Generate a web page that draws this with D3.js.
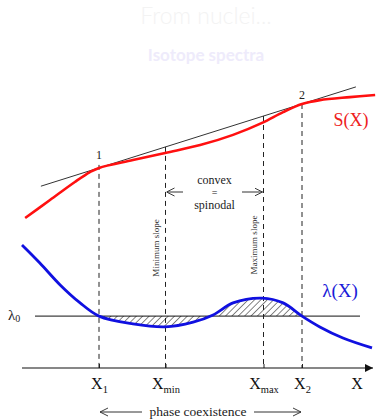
<!DOCTYPE html>
<html>
<head>
<meta charset="utf-8">
<script src="https://cdn.jsdelivr.net/npm/d3@7"></script>
<style>
  body { margin: 0; background: #fff; }
  svg { display: block; }
</style>
</head>
<body>
<div id="chart"></div>
<script>
// values (arbitrary units)
const sPoints = [[0.9, 50], [8, 56], [15.1, 62], [19.4, 65.3], [22, 66.7], [31.7, 69.3], [40.9, 71.7],
  [50.9, 74.3], [60.3, 77.7], [68.6, 81.7], [74.6, 85.3], [80, 88], [85.1, 89.3], [93.7, 90.3], [100.9, 91]];
const lambdaPoints = [[0, 41], [5.1, 35], [10.9, 27.7], [16.6, 21.7], [22, 17.3], [31.7, 14.7],
  [40.9, 13.7], [48.9, 15.3], [54.6, 17.7], [60.3, 21.7], [68.6, 23.3], [74.6, 21.7], [80, 17.3],
  [85.1, 13.7], [91.7, 10], [100, 6.7]];
const tangentPoints = [[5.4, 60.6], [95.4, 93.7]];
const lambda0 = 17.3;
const tickNames = ['X1', 'Xmin', 'Xmax', 'X2'];
const tickValues = [22, 41, 69, 80];
const tickSubs = ['1', 'min', 'max', '2'];

const width = 378;
const height = 420;

const x = d3.scaleLinear().domain([0, 100]).range([22, 372]);
const y = d3.scaleLinear().domain([0, 100]).range([368, 68]);

const svg = d3.select('#chart')
  .append('svg')
  .attr('width', width)
  .attr('height', height);

const defs = svg.append('defs');

defs.append('pattern')
  .attr('id', 'hatch')
  .attr('patternUnits', 'userSpaceOnUse')
  .attr('width', 4.5)
  .attr('height', 4.5)
  .attr('patternTransform', 'rotate(45)')
  .append('line')
  .attr('x1', 0).attr('y1', 0)
  .attr('x2', 0).attr('y2', 4.5)
  .attr('stroke', '#333')
  .attr('stroke-width', 1.2);

defs.append('marker')
  .attr('id', 'axisHead')
  .attr('viewBox', '0 0 10 10')
  .attr('refX', 10).attr('refY', 5)
  .attr('markerWidth', 14).attr('markerHeight', 8)
  .attr('markerUnits', 'userSpaceOnUse')
  .attr('orient', 'auto')
  .append('path')
  .attr('d', 'M0,0L10,5L0,10z')
  .attr('fill', '#111');

defs.append('marker')
  .attr('id', 'openHead')
  .attr('viewBox', '0 0 10 10')
  .attr('refX', 10).attr('refY', 5)
  .attr('markerWidth', 8).attr('markerHeight', 10)
  .attr('markerUnits', 'userSpaceOnUse')
  .attr('orient', 'auto-start-reverse')
  .append('path')
  .attr('d', 'M0,0L10,5L0,10')
  .attr('fill', 'none')
  .attr('stroke', '#333')
  .attr('stroke-width', 1.2);

defs.append('clipPath')
  .attr('id', 'coexist')
  .append('rect')
  .attr('x', x(tickValues[0]))
  .attr('y', 0)
  .attr('width', x(tickValues[3]) - x(tickValues[0]))
  .attr('height', height);

// title (very faint, as in the slide)
svg.append('text')
  .attr('x', 206).attr('y', 24)
  .attr('text-anchor', 'middle')
  .style('font-family', 'Lato, sans-serif')
  .style('font-size', '23px')
  .style('font-weight', '300')
  .attr('fill', '#f3f3f3')
  .text('From nuclei...');

svg.append('text')
  .attr('x', 206).attr('y', 61)
  .attr('text-anchor', 'middle')
  .style('font-family', 'Lato, sans-serif')
  .style('font-size', '17px')
  .style('font-weight', 'bold')
  .attr('fill', '#eeebfb')
  .text('Isotope spectra');

const curve = d3.curveCatmullRom.alpha(0.5);
const line = d3.line().x(d => x(d[0])).y(d => y(d[1])).curve(curve);

// hatched area between lambda and lambda0
const area = d3.area()
  .x(d => x(d[0]))
  .y0(y(lambda0))
  .y1(d => y(d[1]))
  .curve(curve);

svg.append('path')
  .datum(lambdaPoints)
  .attr('d', area)
  .attr('fill', 'url(#hatch)')
  .attr('clip-path', 'url(#coexist)');

// lambda0 line
svg.append('line')
  .attr('x1', 35).attr('x2', 360)
  .attr('y1', y(lambda0)).attr('y2', y(lambda0))
  .attr('stroke', '#111')
  .attr('stroke-width', 1);

// tangent line
svg.append('path')
  .datum(tangentPoints)
  .attr('d', d3.line().x(d => x(d[0])).y(d => y(d[1])))
  .attr('stroke', '#333')
  .attr('stroke-width', 1)
  .attr('fill', 'none');

// dashed verticals
const tangentAt = v => tangentPoints[0][1] + (v - tangentPoints[0][0]) *
  (tangentPoints[1][1] - tangentPoints[0][1]) / (tangentPoints[1][0] - tangentPoints[0][0]);
const tops = [y(66.7) - 3, y(tangentAt(tickValues[1])), y(tangentAt(tickValues[2])), y(88)];

svg.selectAll('.vdash')
  .data(tickValues)
  .enter()
  .append('line')
  .attr('class', 'vdash')
  .attr('x1', d => x(d)).attr('x2', d => x(d))
  .attr('y1', (d, i) => tops[i])
  .attr('y2', y(0))
  .attr('stroke', '#222')
  .attr('stroke-width', 1)
  .attr('stroke-dasharray', '5,4');

// curves
svg.append('path')
  .datum(sPoints)
  .attr('d', line)
  .attr('fill', 'none')
  .attr('stroke', '#ff1010')
  .attr('stroke-width', 2.6);

svg.append('path')
  .datum(lambdaPoints)
  .attr('d', line)
  .attr('fill', 'none')
  .attr('stroke', '#1010e0')
  .attr('stroke-width', 2.8);

// x axis
const axis = d3.axisBottom(x)
  .tickValues(tickValues)
  .tickSizeInner(-4)
  .tickSizeOuter(0)
  .tickPadding(10);

const gx = svg.append('g')
  .attr('transform', `translate(0,${y(0)})`)
  .call(axis);

gx.select('.domain').remove();
gx.selectAll('.tick line').attr('stroke', '#222');
gx.selectAll('.tick text')
  .style('font-family', '"Liberation Serif", serif')
  .style('font-size', '16px')
  .attr('fill', '#111')
  .text(null)
  .each(function (d, i) {
    const t = d3.select(this);
    t.append('tspan').text('X');
    t.append('tspan')
      .attr('dy', 4)
      .style('font-size', '10.5px')
      .text(tickSubs[i]);
  });

svg.append('line')
  .attr('x1', 22).attr('x2', 373)
  .attr('y1', y(0)).attr('y2', y(0))
  .attr('stroke', '#111')
  .attr('stroke-width', 1.2)
  .attr('marker-end', 'url(#axisHead)');

const serif = '"Liberation Serif", serif';

svg.append('text')
  .attr('x', 357).attr('y', 389)
  .attr('text-anchor', 'middle')
  .style('font-family', serif)
  .style('font-size', '16px')
  .attr('fill', '#111')
  .text('X');

// lambda0 label
const l0 = svg.append('text')
  .attr('x', 8).attr('y', y(lambda0) + 4)
  .style('font-family', serif)
  .style('font-size', '15px')
  .attr('fill', '#222');
l0.append('tspan').text('λ');
l0.append('tspan').attr('dy', 2).style('font-size', '10px').text('0');

// curve labels
svg.append('text')
  .attr('x', 340).attr('y', 297)
  .attr('text-anchor', 'middle')
  .style('font-family', serif)
  .style('font-size', '19px')
  .attr('fill', '#1a1ad8')
  .text('λ(X)');

svg.append('text')
  .attr('x', 351).attr('y', 126)
  .attr('text-anchor', 'middle')
  .style('font-family', serif)
  .style('font-size', '18px')
  .attr('fill', '#ee2020')
  .text('S(X)');

// contact point labels
svg.append('text')
  .attr('x', x(tickValues[0])).attr('y', 159)
  .attr('text-anchor', 'middle')
  .style('font-family', serif)
  .style('font-size', '12px')
  .attr('fill', '#222')
  .text('1');

svg.append('text')
  .attr('x', x(tickValues[3])).attr('y', 99)
  .attr('text-anchor', 'middle')
  .style('font-family', serif)
  .style('font-size', '12px')
  .attr('fill', '#222')
  .text('2');

// convex = spinodal
const midX = (x(tickValues[1]) + x(tickValues[2])) / 2;
svg.selectAll('.spin')
  .data(['convex', '=', 'spinodal'])
  .enter()
  .append('text')
  .attr('class', 'spin')
  .attr('x', midX)
  .attr('y', (d, i) => [184, 196, 209][i])
  .attr('text-anchor', 'middle')
  .style('font-family', serif)
  .style('font-size', (d, i) => (i === 1 ? '10px' : '12px'))
  .attr('fill', '#222')
  .text(d => d);

svg.append('line')
  .attr('x1', 183).attr('x2', x(tickValues[1]) + 1)
  .attr('y1', 192).attr('y2', 192)
  .attr('stroke', '#333').attr('stroke-width', 1)
  .attr('marker-end', 'url(#openHead)');
svg.append('line')
  .attr('x1', 242).attr('x2', x(tickValues[2]) - 1)
  .attr('y1', 192).attr('y2', 192)
  .attr('stroke', '#333').attr('stroke-width', 1)
  .attr('marker-end', 'url(#openHead)');

// slope labels (rotated)
[['Minimum slope', x(tickValues[1]) - 10, 248], ['Maximum slope', x(tickValues[2]) - 10, 245]]
  .forEach(([label, lx, ly]) => {
    svg.append('text')
      .attr('transform', `translate(${lx},${ly}) rotate(-90)`)
      .attr('text-anchor', 'middle')
      .attr('dy', '0.35em')
      .style('font-family', serif)
      .style('font-size', '9px')
      .attr('fill', '#333')
      .text(label);
  });

// phase coexistence
svg.append('text')
  .attr('x', 198).attr('y', 416)
  .attr('text-anchor', 'middle')
  .style('font-family', serif)
  .style('font-size', '13.5px')
  .attr('fill', '#222')
  .text('phase  coexistence');

svg.append('line')
  .attr('x1', 142).attr('x2', x(tickValues[0]) + 1)
  .attr('y1', 412).attr('y2', 412)
  .attr('stroke', '#333').attr('stroke-width', 1)
  .attr('marker-end', 'url(#openHead)');
svg.append('line')
  .attr('x1', 254).attr('x2', x(tickValues[3]) - 1)
  .attr('y1', 412).attr('y2', 412)
  .attr('stroke', '#333').attr('stroke-width', 1)
  .attr('marker-end', 'url(#openHead)');
</script>
</body>
</html>
